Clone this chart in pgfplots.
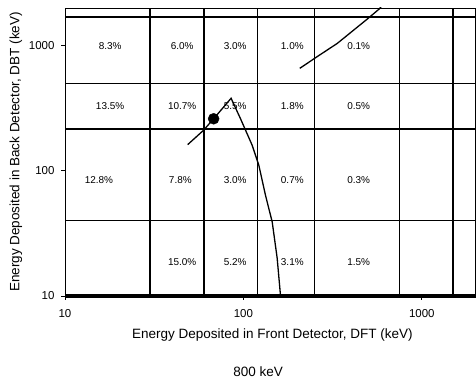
\documentclass[border=0pt]{standalone}
\usepackage{fontspec}
\setmainfont{Liberation Sans}
\usepackage{pgfplots}
\pgfplotsset{compat=1.18}
\begin{document}
\begin{tikzpicture}
\begin{axis}[
  name=ax,
  scale only axis,
  width=410.5bp, height=288bp,
  xmode=log, ymode=log,
  xmin=10, xmax=2000, ymin=10, ymax=2000,
  xminorticks=false, yminorticks=false,
  xtick={10,100,1000}, xticklabels={10,100,1000},
  ytick={10,100,1000}, yticklabels={10,100,1000},
  xtick pos=lower, ytick pos=left,
  tick align=outside,
  major tick length=4bp,
  tick style={black, line width=0.8pt},
  axis line style={black, line width=0.8pt},
  ticklabel style={font=\fontsize{11.5bp}{13bp}\selectfont},
  xticklabel style={yshift=-6bp},
  yticklabel style={xshift=-3bp},
  label style={font=\fontsize{13.5bp}{16bp}\selectfont},
  xlabel={Energy Deposited in Front Detector, DFT (keV)},
  ylabel={Energy Deposited in Back Detector, DBT (keV)},
  xlabel style={at={(axis description cs:0.505,0)}, anchor=center, yshift=-39bp},
  clip=true,
]
\pgfplotsinvokeforeach{30,60,120,250,750,1500}{
  \addplot[black, line width=1.7pt] coordinates {(#1,10) (#1,2000)};
}
\pgfplotsinvokeforeach{40,215,500,1700}{
  \addplot[black, line width=1.7pt] coordinates {(10,#1) (2000,#1)};
}
\addplot[black, line width=1.3pt] coordinates {
  (48.7,161.9) (59.6,210) (68.1,260.6) (85.3,380)
  (96.2,262) (112,160) (122,111) (133,63.8) (145,39.1) (154.6,20.1) (161.5,10)};
\addplot[black, line width=1.3pt] coordinates {
  (207,659) (259,817) (336,1043) (495,1633) (576,1959) (600,2100)};
\addplot[only marks, mark=*, mark size=5.5bp, black] coordinates {(68.1,260.6)};
\pgfplotsset{every node/.style={font=\fontsize{12bp}{14bp}\selectfont}}
% row 1
\node at (axis cs:17.9,1000) {8.3\%};
\node at (axis cs:45.4,1000) {6.0\%};
\node at (axis cs:90,1000) {3.0\%};
\node at (axis cs:188,1000) {1.0\%};
\node at (axis cs:443,1000) {0.1\%};
% row 2
\node at (axis cs:17.9,327) {13.5\%};
\node at (axis cs:45.4,327) {10.7\%};
\node at (axis cs:90,327) {5.5\%};
\node at (axis cs:188,327) {1.8\%};
\node at (axis cs:443,327) {0.5\%};
% row 3
\node at (axis cs:15.5,84) {12.8\%};
\node at (axis cs:44.3,84) {7.8\%};
\node at (axis cs:90,84) {3.0\%};
\node at (axis cs:188,84) {0.7\%};
\node at (axis cs:443,84) {0.3\%};
% row 4
\node at (axis cs:45.4,18.7) {15.0\%};
\node at (axis cs:90,18.7) {5.2\%};
\node at (axis cs:188,18.7) {3.1\%};
\node at (axis cs:443,18.7) {1.5\%};
\end{axis}
\draw[black, line width=3.5bp] (ax.south west) -- (ax.south east);
\node[font=\fontsize{13.5bp}{16bp}\selectfont] at ([xshift=-12bp,yshift=-76bp]ax.south) {800 keV};
\pgfresetboundingbox
\path[use as bounding box] ([xshift=-65bp,yshift=-88bp]ax.south west) rectangle ([xshift=0.5bp,yshift=8bp]ax.north east);
\end{tikzpicture}
\end{document}
